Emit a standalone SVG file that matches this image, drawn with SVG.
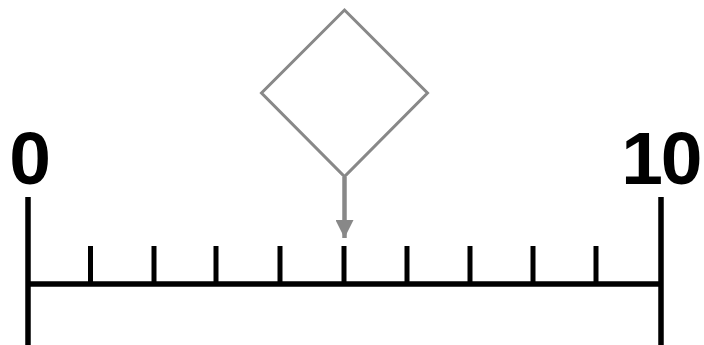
<svg xmlns="http://www.w3.org/2000/svg" width="704" height="345" viewBox="0 0 704 345">
<style>
.axis{stroke:#000;stroke-width:5.5;fill:none;stroke-linecap:butt}
.tick{stroke:#000;stroke-width:5;fill:none}
.lbl{font-family:"Liberation Sans",Arial,sans-serif;font-size:75px;font-weight:bold;fill:#000;text-anchor:middle}
.shape{fill:#fff;stroke:#888;stroke-width:3}
.conn{stroke:#888;stroke-width:4.5;fill:none}
</style>
<defs>
<marker id="arr" markerUnits="userSpaceOnUse" markerWidth="20" markerHeight="18" refX="18" refY="9" orient="auto">
<path d="M0,0 L18,9 L0,18 Z" fill="#888"/>
</marker>
</defs>
<rect width="704" height="345" fill="#fff"/>
<g id="axis">
<line class="axis" x1="28" y1="197" x2="28" y2="345"/>
<line class="axis" x1="661" y1="197" x2="661" y2="345"/>
<line class="axis" x1="28" y1="284" x2="661" y2="284"/>
<g class="tick">
<line x1="90.5" y1="246" x2="90.5" y2="284"/>
<line x1="154" y1="246" x2="154" y2="284"/>
<line x1="216" y1="246" x2="216" y2="284"/>
<line x1="280" y1="246" x2="280" y2="284"/>
<line x1="344" y1="246" x2="344" y2="284"/>
<line x1="407" y1="246" x2="407" y2="284"/>
<line x1="470" y1="246" x2="470" y2="284"/>
<line x1="533" y1="246" x2="533" y2="284"/>
<line x1="596" y1="246" x2="596" y2="284"/>
</g>
</g>
<g id="label-0"><text class="lbl" x="30" y="184">0</text></g>
<g id="label-10"><text class="lbl" y="184"><tspan x="642">1</tspan><tspan x="681.5">0</tspan></text></g>
<g id="diamond"><polygon class="shape" points="344.5,10 427.5,93 344.5,176.5 261.5,93"/></g>
<g id="connectors">
<line class="conn" x1="344.5" y1="177" x2="344.5" y2="238" marker-end="url(#arr)"/>
</g>
</svg>
